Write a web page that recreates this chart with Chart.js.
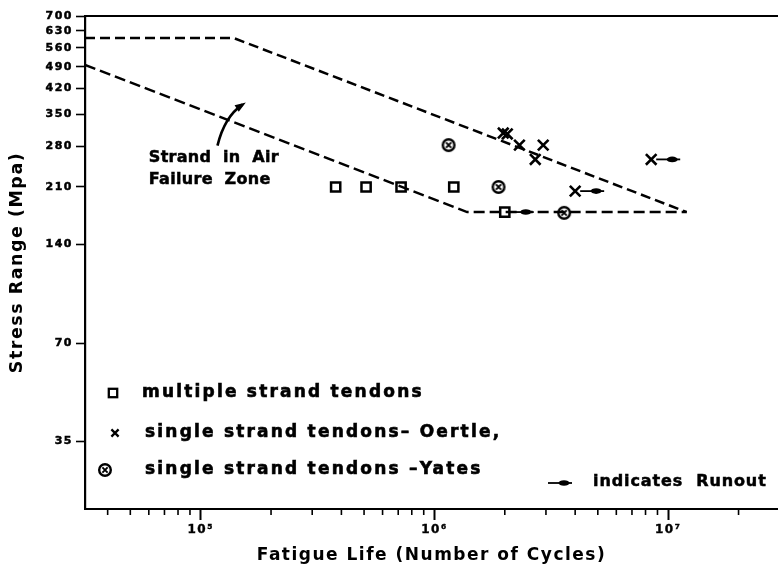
<!DOCTYPE html>
<html><head><meta charset="utf-8">
<script src="https://cdn.jsdelivr.net/npm/chart.js@4.4.1/dist/chart.umd.min.js"></script>
<style>html,body{margin:0;padding:0;background:#fff;overflow:hidden}#wrap{width:778px;height:572px;position:relative;background:#fff}</style>
</head><body><div id="wrap"><canvas id="c"></canvas></div>
<script>
// ---------- data ----------
const yTickValues = [35, 70, 140, 210, 280, 350, 420, 490, 560, 630, 700];
const xTickValues = [1e5, 1e6, 1e7];
const xTickLabels = ['10\u2075', '10\u2076', '10\u2077'];
const xMinorTicks = [4e4, 5e4, 6e4, 7e4, 8e4, 9e4, 2e5, 3e5, 4e5, 5e5, 6e5, 7e5, 8e5, 9e5,
                     2e6, 3e6, 4e6, 5e6, 6e6, 7e6, 8e6, 9e6, 2e7];

const upperBoundX = [32000, 138000, 12000000];
const upperBoundY = [600, 600, 176];
const lowerBoundX = [32000, 1380000, 12000000];
const lowerBoundY = [496, 176, 176];

const multiX = [378000, 510000, 720000, 1210000, 2000000];
const multiY = [210, 210, 210, 210, 176];
const multiRunout = [false, false, false, false, true];

const oertleX = [1970000, 2050000, 2310000, 2920000, 2700000, 4000000, 8460000];
const oertleY = [307, 305, 282, 282, 255, 204, 255];
const oertleRunout = [false, false, false, false, false, true, true];

const yatesX = [1150000, 1880000, 3590000];
const yatesY = [282, 210, 175];
const yatesRunout = [false, false, false];

const seriesLabels = ['multiple strand tendons', 'single strand tendons\u2013 Oertle,', 'single strand tendons \u2013Yates'];
const annotationLines = ['Strand  in  Air', 'Failure  Zone'];
const annotationPos = {x: 60000, y: [258, 221]};
const annotationArrow = {x: [118000, 126600, 151000], y: [281, 345, 375]};

// ---------- helpers ----------
const pts = (xs, ys) => xs.map((x, i) => ({x: x, y: ys[i]}));
const FONT = 'DejaVu Sans';

const yatesStyle = (() => {
  const c = document.createElement('canvas'); c.width = 18; c.height = 18;
  const g = c.getContext('2d');
  g.strokeStyle = '#000'; g.lineWidth = 2.4;
  g.beginPath(); g.arc(9, 9, 5.8, 0, Math.PI * 2); g.stroke();
  g.lineWidth = 1.9;
  g.beginPath(); g.moveTo(6.4, 6.4); g.lineTo(11.6, 11.6); g.moveTo(11.6, 6.4); g.lineTo(6.4, 11.6); g.stroke();
  return c;
})();

function drawRunout(ctx, x, y) {
  ctx.save();
  ctx.strokeStyle = '#000'; ctx.fillStyle = '#000'; ctx.lineWidth = 1.8;
  ctx.beginPath(); ctx.moveTo(x, y); ctx.lineTo(x + 24, y); ctx.stroke();
  ctx.beginPath(); ctx.ellipse(x + 16, y, 5.5, 2.8, 0, 0, Math.PI * 2); ctx.fill();
  ctx.restore();
}

function drawMarker(ctx, kind, x, y, s) {
  ctx.save();
  ctx.strokeStyle = '#000'; ctx.lineWidth = 2.3;
  if (kind === 'rect') {
    ctx.strokeRect(x - s, y - s, 2 * s, 2 * s);
  } else if (kind === 'cross') {
    ctx.beginPath(); ctx.moveTo(x - s, y - s); ctx.lineTo(x + s, y + s);
    ctx.moveTo(x + s, y - s); ctx.lineTo(x - s, y + s); ctx.stroke();
  } else {
    ctx.drawImage(yatesStyle, x - 9, y - 9);
  }
  ctx.restore();
}

function heavyText(ctx, t, x, y) {
  ctx.fillText(t, x, y);
  ctx.strokeText(t, x, y);
}

const decorPlugin = {
  id: 'decor',
  beforeDraw(chart) {
    chart.ctx.letterSpacing = '1.5px';
  },
  afterDraw(chart) {
    const ctx = chart.ctx, a = chart.chartArea;
    const xs = chart.scales.x, ys = chart.scales.y;
    ctx.save();
    ctx.letterSpacing = '0px';
    // top frame line
    ctx.strokeStyle = '#000'; ctx.lineWidth = 2;
    ctx.beginPath(); ctx.moveTo(a.left, a.top); ctx.lineTo(a.right, a.top); ctx.stroke();
    // minor x ticks
    ctx.lineWidth = 1.6;
    xMinorTicks.forEach(v => {
      const px = xs.getPixelForValue(v);
      if (px < a.left || px > a.right) return;
      ctx.beginPath(); ctx.moveTo(px, a.bottom); ctx.lineTo(px, a.bottom + 6); ctx.stroke();
    });
    // runout arrows on points
    chart.data.datasets.forEach((ds, i) => {
      if (!ds.runout) return;
      const meta = chart.getDatasetMeta(i);
      meta.data.forEach((el, j) => { if (ds.runout[j]) drawRunout(ctx, el.x + 5, el.y); });
    });
    // annotation text
    ctx.fillStyle = '#000'; ctx.strokeStyle = '#000'; ctx.lineWidth = 0.5;
    ctx.font = 'bold 16px "' + FONT + '"';
    ctx.letterSpacing = '0.3px';
    ctx.textBaseline = 'middle'; ctx.textAlign = 'left';
    annotationLines.forEach((t, i) => {
      heavyText(ctx, t, xs.getPixelForValue(annotationPos.x), ys.getPixelForValue(annotationPos.y[i]));
    });
    // curved arrow
    const p = annotationArrow.x.map((v, i) => ({x: xs.getPixelForValue(v), y: ys.getPixelForValue(annotationArrow.y[i])}));
    ctx.lineWidth = 2.6;
    ctx.beginPath(); ctx.moveTo(p[0].x, p[0].y); ctx.quadraticCurveTo(p[1].x, p[1].y, p[2].x, p[2].y); ctx.stroke();
    const ang = Math.atan2(p[2].y - p[1].y, p[2].x - p[1].x);
    const tip = {x: p[2].x + Math.cos(ang) * 4, y: p[2].y + Math.sin(ang) * 4};
    ctx.beginPath();
    ctx.moveTo(tip.x, tip.y);
    ctx.lineTo(tip.x - Math.cos(ang) * 11 - Math.sin(ang) * 3.8, tip.y - Math.sin(ang) * 11 + Math.cos(ang) * 3.8);
    ctx.lineTo(tip.x - Math.cos(ang) * 11 + Math.sin(ang) * 3.8, tip.y - Math.sin(ang) * 11 - Math.cos(ang) * 3.8);
    ctx.closePath(); ctx.fill();
    // legend
    const rows = [
      {kind: 'rect', mx: a.left + 28, my: a.bottom - 116, s: 4.2, tx: a.left + 57},
      {kind: 'cross', mx: a.left + 30, my: a.bottom - 76, s: 3.6, tx: a.left + 60},
      {kind: 'circ', mx: a.left + 20, my: a.bottom - 39, s: 5, tx: a.left + 60}
    ];
    ctx.font = 'bold 17px "' + FONT + '"';
    ctx.letterSpacing = '2.2px';
    ctx.lineWidth = 0.6;
    rows.forEach((r, i) => {
      drawMarker(ctx, r.kind, r.mx, r.my, r.s);
      heavyText(ctx, seriesLabels[i], r.tx, r.my);
    });
    // runout legend
    drawRunout(ctx, 548, a.bottom - 26);
    ctx.font = 'bold 16px "' + FONT + '"';
    ctx.letterSpacing = '0.9px';
    ctx.lineWidth = 0.5;
    heavyText(ctx, 'indicates  Runout', 593, a.bottom - 27);
    ctx.restore();
  }
};

Chart.defaults.font.family = FONT;
Chart.defaults.font.weight = 'bold';
Chart.defaults.color = '#000';

new Chart(document.getElementById('c'), {
  type: 'scatter',
  data: {
    datasets: [
      {label: 'Upper bound', data: pts(upperBoundX, upperBoundY), showLine: true, borderColor: '#000', borderWidth: 2.5,
       borderDash: [10, 5], pointRadius: 0, fill: false, tension: 0},
      {label: 'Lower bound', data: pts(lowerBoundX, lowerBoundY), showLine: true, borderColor: '#000', borderWidth: 2.5,
       borderDash: [11, 5], pointRadius: 0, fill: false, tension: 0},
      {label: seriesLabels[0], data: pts(multiX, multiY), runout: multiRunout, pointStyle: 'rect', pointRadius: 6.5,
       borderColor: '#000', backgroundColor: '#fff', borderWidth: 2.5},
      {label: seriesLabels[1], data: pts(oertleX, oertleY), runout: oertleRunout, pointStyle: 'crossRot', pointRadius: 7.5,
       borderColor: '#000', borderWidth: 2.6},
      {label: seriesLabels[2], data: pts(yatesX, yatesY), runout: yatesRunout, pointStyle: yatesStyle, pointRadius: 9,
       borderColor: '#000', backgroundColor: '#fff'}
    ]
  },
  options: {
    responsive: true, maintainAspectRatio: false, animation: false,
    layout: {autoPadding: false, padding: {top: 16, right: 0, left: 0, bottom: 0}},
    plugins: {legend: {display: false}, tooltip: {enabled: false}},
    scales: {
      x: {
        type: 'logarithmic', min: 32000, max: 29500000, position: 'bottom',
        afterFit: s => { s.height = 63; s.paddingLeft = 0; s.paddingRight = 0; },
        afterBuildTicks: s => { s.ticks = xTickValues.map(v => ({value: v})); },
        grid: {drawOnChartArea: false, tickLength: 11, tickColor: '#000', tickWidth: 2},
        border: {display: true, color: '#000', width: 2},
        ticks: {autoSkip: false, maxRotation: 0, padding: 3, color: '#000', font: {size: 12, weight: 'bold'},
                textStrokeColor: '#000', textStrokeWidth: 0.4,
                callback: (v, i) => xTickLabels[i]},
        title: {display: true, text: 'Fatigue Life (Number of Cycles)', color: '#000',
                font: {size: 17, weight: 'bold'}, padding: {top: 0, bottom: 6}}
      },
      y: {
        type: 'logarithmic', min: 21.75, max: 700, position: 'left',
        afterFit: s => { s.width = 85; s.paddingTop = 0; s.paddingBottom = 0; },
        afterBuildTicks: s => { s.ticks = yTickValues.map(v => ({value: v})); },
        grid: {drawOnChartArea: false, tickLength: 9, tickColor: '#000', tickWidth: 1.6},
        border: {display: true, color: '#000', width: 2.2},
        ticks: {autoSkip: false, padding: 3, color: '#000', font: {size: 11, weight: 'bold'},
                textStrokeColor: '#000', textStrokeWidth: 0.5,
                callback: (v, i) => String(yTickValues[i])},
        title: {display: true, text: 'Stress Range (Mpa)', color: '#000',
                font: {size: 17.5, weight: 'bold'}, padding: {top: 7, bottom: 0}}
      }
    }
  },
  plugins: [decorPlugin]
});
</script>
</body></html>
